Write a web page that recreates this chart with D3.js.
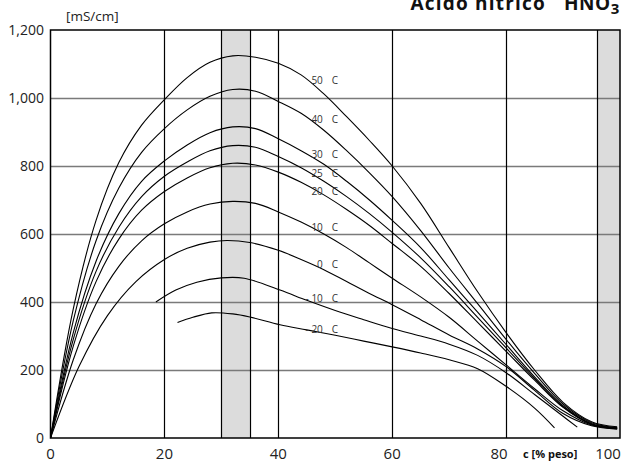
<!DOCTYPE html>
<html>
<head>
<meta charset="utf-8">
<script src="https://cdn.jsdelivr.net/npm/d3@7"></script>
<style>
  html, body { margin: 0; padding: 0; background: #fff; }
  svg { display: block; }
  text { font-family: "Open Sans", "DejaVu Sans", sans-serif; }
</style>
</head>
<body>
<svg id="chart" width="630" height="465"></svg>
<script>
// Conductivity of nitric acid vs. concentration, one curve per temperature
const temps = ["50", "40", "30", "25", "20", "10", "0", "-10", "-20"];

const t50 = [[0,0],[4,380],[8,640],[12,810],[16,920],[20,995],[24,1060],[28,1105],[32,1124],[36,1120],[40,1102],[44,1068],[48,1012],[52,945],[56,875],[60,800],[65,690],[70,560],[75,430],[80,310],[85,200],[90,105],[95,48],[99.5,33]];
const t40 = [[0,0],[4,345],[8,580],[12,735],[16,840],[20,910],[24,965],[28,1005],[32,1025],[36,1020],[40,990],[44,955],[48,905],[52,845],[56,780],[60,710],[65,610],[70,500],[75,395],[80,290],[85,190],[90,100],[95,45],[99.5,31]];
const t30 = [[0,0],[4,310],[8,520],[12,660],[16,755],[20,815],[24,862],[28,898],[32,915],[36,910],[40,880],[44,845],[48,805],[52,755],[56,700],[60,640],[65,560],[70,465],[75,370],[80,275],[85,180],[90,95],[95,42],[99.5,30]];
const t25 = [[0,0],[4,290],[8,490],[12,620],[16,710],[20,770],[24,812],[28,845],[32,860],[36,855],[40,828],[44,795],[48,755],[52,710],[56,660],[60,605],[65,530],[70,445],[75,355],[80,265],[85,175],[90,92],[95,41],[99.5,29]];
const t20 = [[0,0],[4,270],[8,460],[12,585],[16,670],[20,725],[24,765],[28,795],[32,808],[36,803],[40,782],[44,752],[48,715],[52,672],[56,625],[60,572],[65,505],[70,425],[75,340],[80,255],[85,170],[90,90],[95,40],[99.5,28]];
const t10 = [[0,0],[4,230],[8,395],[12,505],[16,580],[20,630],[24,665],[28,688],[32,696],[36,690],[40,665],[44,635],[48,600],[52,560],[56,515],[60,470],[65,415],[70,355],[75,285],[80,215],[85,145],[90,80],[95,38],[99.5,27]];
const t0 = [[0,0],[5,210],[10,360],[15,460],[20,525],[24,558],[28,576],[31,581],[35,575],[40,552],[44,525],[48,495],[52,460],[56,425],[60,392],[65,348],[70,303],[75,262],[80,210],[85,140],[90,72],[95,36],[99.5,26]];
const tm10 = [[18.5,400],[22,435],[25.7,458],[30,471],[34,470],[40.3,435],[45,405],[50,375],[55,348],[60,322],[65,300],[70,276],[75,243],[80,192],[85,128],[90,64],[92.5,32]];
const tm20 = [[22.3,340],[25,355],[28.3,368],[32,365],[35,356],[40.3,333],[45,318],[50,302],[55,285],[60,268],[65,250],[70,230],[75,204],[80,152],[85,88],[88.5,30]];
const curves = [t50, t40, t30, t25, t20, t10, t0, tm10, tm20];

// Where each temperature label sits (concentration, conductivity)
const labelAt = [[49.4,1041],[49.4,927],[49.4,824],[49.4,769],[49.4,715],[49.4,610],[49.4,500],[49.4,401],[49.4,309]];

const xTicks = [0, 20, 40, 60, 80, 100];
const yTicks = [0, 200, 400, 600, 800, 1000, 1200];
const xGrid = [20, 30, 35, 40, 60, 80, 96];
const bands = [[30, 35], [96, 100]];

const svg = d3.select("#chart");
const pLeft = 50.5, pRight = 620, pTop = 30, pBottom = 438;

const x = d3.scaleLinear().domain([0, 100]).range([pLeft, pRight]);
const y = d3.scaleLinear().domain([0, 1200]).range([pBottom, pTop]);

// shaded bands
svg.append("g").selectAll("rect").data(bands).join("rect")
  .attr("x", d => x(d[0])).attr("y", pTop)
  .attr("width", d => x(d[1]) - x(d[0])).attr("height", pBottom - pTop)
  .attr("fill", "#dcdcdc");

// horizontal grid (grey)
svg.append("g").selectAll("line").data(yTicks.filter(v => v > 0 && v < 1200)).join("line")
  .attr("x1", pLeft).attr("x2", pRight)
  .attr("y1", d => Math.round(y(d)) + 0.5).attr("y2", d => Math.round(y(d)) + 0.5)
  .attr("stroke", "#7a7a7a").attr("stroke-width", 1.6);

// vertical grid (black)
svg.append("g").selectAll("line").data(xGrid).join("line")
  .attr("x1", d => Math.round(x(d)) + 0.5).attr("x2", d => Math.round(x(d)) + 0.5)
  .attr("y1", pTop).attr("y2", pBottom)
  .attr("stroke", "#000").attr("stroke-width", 1.2);

// frame
svg.append("rect")
  .attr("x", pLeft).attr("y", pTop).attr("width", pRight - pLeft).attr("height", pBottom - pTop)
  .attr("fill", "none").attr("stroke", "#000").attr("stroke-width", 1.5);

// curves
const line = d3.line().x(d => x(d[0])).y(d => y(d[1])).curve(d3.curveCatmullRom.alpha(0.5));
svg.append("g").selectAll("path").data(curves).join("path")
  .attr("d", line)
  .attr("fill", "none").attr("stroke", "#000").attr("stroke-width", 1.1);

// temperature labels
const lab = svg.append("g").attr("font-size", 10).attr("fill", "#333");
temps.forEach((t, i) => {
  const [c, v] = labelAt[i];
  const px = x(c), py = y(v);
  const num = t.startsWith("-") ? "- " + t.slice(1) : t;
  lab.append("text").attr("x", px - 9).attr("y", py).attr("text-anchor", "end").text(num);
  lab.append("text").attr("x", px).attr("y", py).text("C");
});

// y axis labels
svg.append("g").attr("font-size", 14).attr("fill", "#222")
  .selectAll("text").data(yTicks).join("text")
  .attr("x", 44).attr("y", d => y(d) + 5).attr("text-anchor", "end")
  .text(d => d3.format(",")(d));

// x axis labels
const xLabelShift = { 80: -7, 100: -12 };
svg.append("g").attr("font-size", 15).attr("fill", "#222")
  .selectAll("text").data(xTicks).join("text")
  .attr("x", d => x(d) + (xLabelShift[d] || 0)).attr("y", 459).attr("text-anchor", "middle")
  .text(d => d);

svg.append("text").attr("x", 523).attr("y", 458)
  .attr("font-size", 11).attr("font-weight", 700).attr("fill", "#111")
  .text("c [% peso]");

svg.append("text").attr("x", 66).attr("y", 21)
  .attr("font-size", 13.5).attr("fill", "#222").text("[mS/cm]");

// title: name and formula
svg.append("text").attr("x", 546).attr("y", 10)
  .attr("text-anchor", "end").attr("font-size", 19).attr("font-weight", 700)
  .attr("letter-spacing", 1.2).attr("fill", "#111")
  .text("Acido nitrico");
const formula = svg.append("text").attr("x", 620).attr("y", 10)
  .attr("text-anchor", "end").attr("font-size", 19).attr("font-weight", 700)
  .attr("letter-spacing", 0.6).attr("fill", "#111");
formula.append("tspan").text("HNO");
formula.append("tspan").attr("dy", 4).attr("font-size", 15).text("3");
</script>
</body>
</html>
